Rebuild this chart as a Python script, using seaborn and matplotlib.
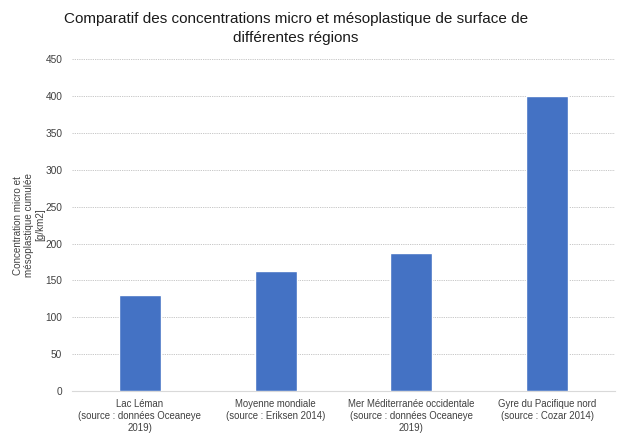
import pandas as pd
import seaborn as sns
import matplotlib.pyplot as plt

regions = ['Lac Léman\n(source : données Oceaneye\n2019)',
           'Moyenne mondiale\n(source : Eriksen 2014)',
           'Mer Méditerranée occidentale\n(source : données Oceaneye\n2019)',
           'Gyre du Pacifique nord\n(source : Cozar 2014)']
concentrations = [130, 163, 187, 400]
yticks = [0, 50, 100, 150, 200, 250, 300, 350, 400, 450]

df = pd.DataFrame({'region': regions, 'conc': concentrations})

sns.set_style('white')
plt.rcParams['font.family'] = ['Liberation Sans', 'DejaVu Sans']

fig = plt.figure(figsize=(6.2, 4.44), dpi=100)
ax = fig.add_axes([0.116, 0.119, 0.876, 0.748])

sns.barplot(data=df, x='region', y='conc', color='#4472c4', width=0.31,
            saturation=1, ax=ax, zorder=3)

ax.set_ylim(0, 450)
ax.set_yticks(yticks)
ax.grid(axis='y', linestyle=(0, (1.5, 1.2)), color='#c0c0c0', linewidth=0.6, zorder=0)
ax.tick_params(axis='both', length=0, colors='#404040')
ax.tick_params(axis='y', pad=7, labelsize=7.3)
ax.tick_params(axis='x', pad=6, labelsize=6.9)
for lbl in ax.get_xticklabels():
    lbl.set_linespacing(1.25)
for s in ['top', 'right', 'left']:
    ax.spines[s].set_visible(False)
ax.spines['bottom'].set_color('#d9d9d9')

ax.set_xlabel('')
ax.set_ylabel('Concentration micro et\nmésoplastique cumulée\n[g/km2]', fontsize=7.1,
              color='#404040', linespacing=1.1)
ax.yaxis.set_label_coords(-0.05, 0.5)
fig.suptitle('Comparatif des concentrations micro et mésoplastique de surface de\ndifférentes régions',
             fontsize=11, color='#1a1a1a', x=0.477, y=0.972, va='top', linespacing=1.45)

fig.savefig('out.png', dpi=100)
